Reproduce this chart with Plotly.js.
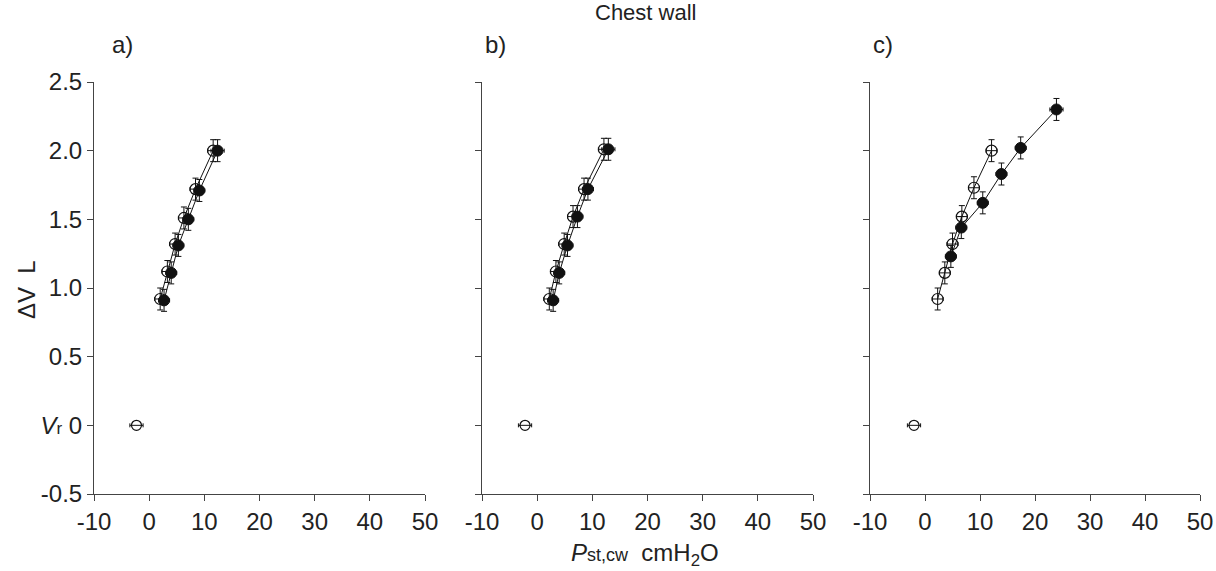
<!DOCTYPE html>
<html>
<head>
<meta charset="utf-8">
<script src="https://cdn.plot.ly/plotly-3.0.1.min.js"></script>
<style>html,body{margin:0;padding:0;background:#fff;}#chart{width:1216px;height:571px;}</style>
</head>
<body>
<div id="chart"></div>
<script>
// ---- Data ----
// Panel a
const aOpenX   = [2.0, 3.3, 4.7, 6.3, 8.4, 11.6];
const aOpenY   = [0.92, 1.12, 1.32, 1.51, 1.72, 2.00];
const aFilledX = [2.7, 4.0, 5.3, 7.1, 9.1, 12.4];
const aFilledY = [0.91, 1.11, 1.31, 1.50, 1.71, 2.00];
const aVrX = [-2.3];

// Panel b
const bOpenX   = [2.2, 3.4, 4.9, 6.5, 8.5, 12.1];
const bOpenY   = [0.92, 1.12, 1.32, 1.52, 1.72, 2.01];
const bFilledX = [2.9, 4.0, 5.5, 7.3, 9.2, 12.9];
const bFilledY = [0.91, 1.11, 1.31, 1.52, 1.72, 2.01];
const bVrX = [-2.2];

// Panel c
const cOpenX   = [2.3, 3.6, 5.0, 6.7, 8.9, 12.1];
const cOpenY   = [0.92, 1.11, 1.32, 1.52, 1.73, 2.00];
const cFilledX = [4.7, 6.6, 10.5, 13.9, 17.4, 23.9];
const cFilledY = [1.23, 1.44, 1.62, 1.83, 2.02, 2.30];
const cVrX = [-2.0];

const vrY = [0];

// error bars
const openEy   = [0.08, 0.08, 0.08, 0.08, 0.08, 0.08];
const openEx   = [1.0, 1.0, 1.0, 1.0, 1.0, 1.0];
const filledEy = [0.08, 0.08, 0.08, 0.08, 0.08, 0.08];
const filledEx = [1.0, 1.0, 1.0, 1.0, 1.0, 1.2];
const vrEx = [1.2];

const xTickVals = [-10, 0, 10, 20, 30, 40, 50];
const xTickText = ['-10', '0', '10', '20', '30', '40', '50'];
const yTickVals = [-0.5, 0, 0.5, 1.0, 1.5, 2.0, 2.5];
const yTickText = ['-0.5', '<i>V</i><span style="font-size:17px">r</span> 0', '0.5', '1.0', '1.5', '2.0', '2.5'];
const panelLabels = ['a)', 'b)', 'c)'];

// ---- Build ----
function ebar(arr, w) {
  return {type: 'data', array: arr, visible: true, color: '#111', thickness: 1, width: w};
}
function series(x, y, ex, ey, filled, xa, ya) {
  return {
    x: x, y: y, xaxis: xa, yaxis: ya, mode: 'lines+markers', type: 'scatter',
    line: {color: '#111', width: 1},
    marker: filled
      ? {symbol: 'circle', size: 11, color: '#111', line: {color: '#111', width: 1}}
      : {symbol: 'circle-open', size: 11, color: '#111', line: {color: '#111', width: 1.2}},
    error_x: ebar(ex, 2), error_y: ebar(ey, 3),
    showlegend: false, hoverinfo: 'skip'
  };
}
function vr(x, ex, xa, ya) {
  return {
    x: x, y: vrY, xaxis: xa, yaxis: ya, mode: 'markers', type: 'scatter',
    marker: {symbol: 'circle-open', size: 10, color: '#111', line: {color: '#111', width: 1.2}},
    error_x: ebar(ex, 2), showlegend: false, hoverinfo: 'skip'
  };
}

const data = [
  series(aOpenX, aOpenY, openEx, openEy, false, 'x', 'y'),
  series(aFilledX, aFilledY, filledEx, filledEy, true, 'x', 'y'),
  vr(aVrX, vrEx, 'x', 'y'),
  series(bOpenX, bOpenY, openEx, openEy, false, 'x2', 'y2'),
  series(bFilledX, bFilledY, filledEx, filledEy, true, 'x2', 'y2'),
  vr(bVrX, vrEx, 'x2', 'y2'),
  series(cOpenX, cOpenY, openEx, openEy, false, 'x3', 'y3'),
  series(cFilledX, cFilledY, filledEx, filledEy, true, 'x3', 'y3'),
  vr(cVrX, vrEx, 'x3', 'y3')
];

const FAM = 'Liberation Sans Narrow, Liberation Sans, Arial, sans-serif';
const font = {family: FAM, size: 24, color: '#222'};
function xax(domain, anchor) {
  return {
    domain: domain, anchor: anchor, range: [-10, 50], tickvals: xTickVals, ticktext: xTickText,
    ticks: 'outside', ticklen: 6, tickcolor: '#444', showline: true, linecolor: '#444', linewidth: 1,
    showgrid: false, zeroline: false, tickfont: font, fixedrange: true
  };
}
function yax(anchor, labels) {
  return {
    domain: [0, 1], anchor: anchor, range: [-0.5, 2.5], tickvals: yTickVals, ticktext: yTickText,
    showticklabels: labels,
    ticks: 'outside', ticklen: 6, tickcolor: '#444', showline: true, linecolor: '#444', linewidth: 1,
    showgrid: false, zeroline: false, tickfont: font, fixedrange: true
  };
}

const W = 1106, L = 94, T = 82, H = 412;
function px(p) { return (p - L) / W; }
function py(p) { return (T + H - p) / H; }
const annotations = [
  {text: 'Chest wall', x: px(645), y: py(12), xref: 'paper', yref: 'paper', xanchor: 'center', yanchor: 'middle', showarrow: false, font: {family: FAM, size: 22, color: '#222'}},
  {text: panelLabels[0], x: px(110), y: py(45), xref: 'paper', yref: 'paper', xanchor: 'left', yanchor: 'middle', showarrow: false, font: font},
  {text: panelLabels[1], x: px(483), y: py(45), xref: 'paper', yref: 'paper', xanchor: 'left', yanchor: 'middle', showarrow: false, font: font},
  {text: panelLabels[2], x: px(871), y: py(45), xref: 'paper', yref: 'paper', xanchor: 'left', yanchor: 'middle', showarrow: false, font: font},
  {text: 'ΔV  L', x: px(26), y: py(290), xref: 'paper', yref: 'paper', xanchor: 'center', yanchor: 'middle', textangle: -90, showarrow: false, font: font},
  {text: '<i>P</i><span style="font-size:18px">st,cw</span>  cmH<sub>2</sub>O', x: px(645), y: py(554), xref: 'paper', yref: 'paper', xanchor: 'center', yanchor: 'middle', showarrow: false, font: font}
];

const layout = {
  width: 1216, height: 571,
  margin: {l: 94, r: 16, t: 82, b: 77},
  paper_bgcolor: '#fff', plot_bgcolor: '#fff',
  font: font,
  xaxis: xax([0, px(425)], 'y'),
  yaxis: yax('x', true),
  xaxis2: xax([px(482), px(813)], 'y2'),
  yaxis2: yax('x2', false),
  xaxis3: xax([px(870), 1], 'y3'),
  yaxis3: yax('x3', false),
  annotations: annotations
};

Plotly.newPlot('chart', data, layout, {staticPlot: true, displayModeBar: false});
</script>
</body>
</html>
